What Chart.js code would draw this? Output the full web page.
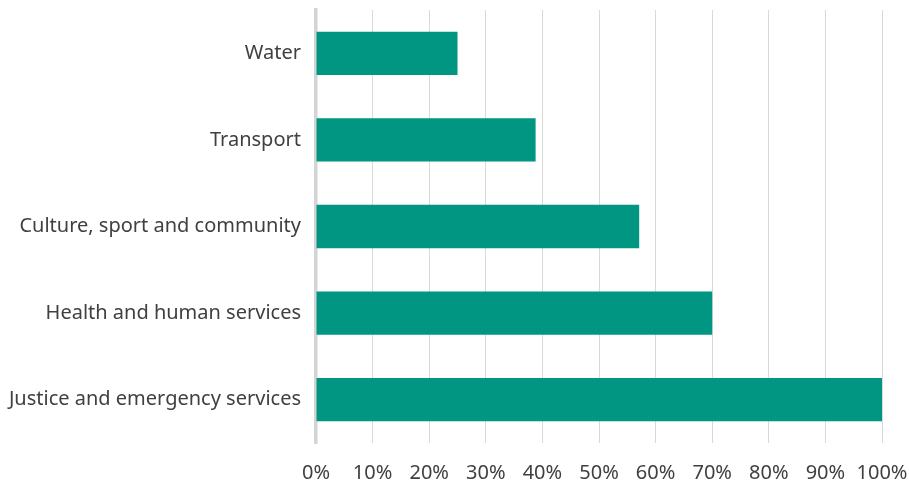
<!DOCTYPE html>
<html>
<head>
<meta charset="utf-8">
<script src="https://cdn.jsdelivr.net/npm/chart.js@4"></script>
<style>
html, body { margin: 0; padding: 0; background: #fff; }
#wrap { width: 909px; height: 487px; }
</style>
</head>
<body>
<div id="wrap"><canvas id="sectorChart"></canvas></div>
<script>
const sectors = ["Water", "Transport", "Culture, sport and community", "Health and human services", "Justice and emergency services"]
const shares = [25, 38.8, 57.1, 70, 100]
const tickStep = 10

const ctx = document.getElementById("sectorChart")

const labelFont = { family: "Noto Sans", size: 20 }

new Chart(ctx, {
type: "bar",
data: {
labels: sectors,
datasets: [{
data: shares,
backgroundColor: "#009682",
borderWidth: 0,
categoryPercentage: 1,
barPercentage: 0.5
}]
},
options: {
indexAxis: "y",
responsive: true,
maintainAspectRatio: false,
animation: false,
layout: { padding: { top: 10, right: 27, left: 0, bottom: 0 } },
plugins: { legend: { display: false }, tooltip: { enabled: false } },
scales: {
x: {
min: 0,
max: 100,
ticks: {
stepSize: tickStep,
padding: 18,
color: "#404040",
font: labelFont,
maxRotation: 0,
callback: v => v + "%"
},
grid: { color: "#d9d9d9", lineWidth: 1, drawTicks: false },
border: { display: false },
// fixed axis height, no extra room for the end labels
afterFit: s => { s.height = 44; s.paddingLeft = 0; s.paddingRight = 0 }
},
y: {
ticks: {
padding: 15,
color: "#404040",
font: labelFont
},
grid: { display: false, drawTicks: false },
border: { color: "#d4d4d4", width: 3.5 },
afterFit: s => { s.width = 316; s.paddingTop = 0; s.paddingBottom = 0 }
}
}
}
})
</script>
</body>
</html>
